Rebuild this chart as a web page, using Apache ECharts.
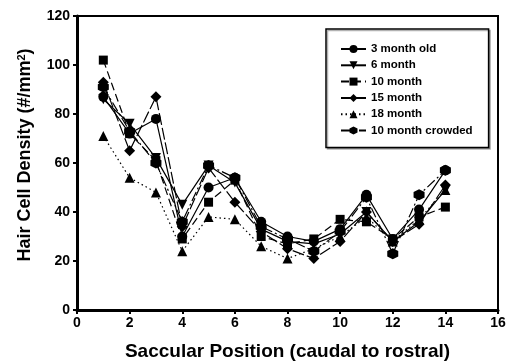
<!DOCTYPE html>
<html>
<head>
<meta charset="utf-8">
<script src="https://cdn.jsdelivr.net/npm/echarts@6/dist/echarts.min.js"></script>
<style>
  html, body { margin: 0; padding: 0; background: #fff; }
  #chart { width: 508px; height: 364px; }
</style>
</head>
<body>
<div id="chart"></div>
<script>
// saccular positions 1..14
const positions = [1, 2, 3, 4, 5, 6, 7, 8, 9, 10, 11, 12, 13, 14]

// hair cell density per age group
const month3 = [87, 72, 78, 30, 50, 54, 36, 30, 28, 33, 47, 29, 41, 57]
const month6 = [86, 76, 62, 43, 59, 52, 33, 28, 27, 31, 40, 28, 36, 49]
const month10 = [102, 72, 61, 29, 44, 53, 30, 27, 29, 37, 36, 29, 38, 42]
const month15 = [93, 65, 87, 34, 58, 44, 32, 25, 21, 28, 40, 28, 35, 51]
const month18 = [71, 54, 48, 24, 38, 37, 26, 21, 25, 30, 38, 28, 37, 49]
const month10Crowded = [91, 73, 60, 36, 59, 54, 34, 29, 24, 32, 46, 23, 47, 57]

const seriesNames = ['3 month old', '6 month', '10 month', '15 month', '18 month', '10 month crowded']

const hexagon = 'path://M0,-1 L0.866,-0.5 L0.866,0.5 L0,1 L-0.866,0.5 L-0.866,-0.5 Z'
const font = '"Liberation Sans", Arial, sans-serif'

const chart = echarts.init(document.getElementById('chart'))

function pairs(values) {
    return positions.map((x, i) => [x, values[i]])
}

function makeSeries(name, values, symbol, size, lineType, rotate) {
    return {
        name: name,
        type: 'line',
        data: pairs(values),
        symbol: symbol,
        symbolSize: size,
        symbolRotate: rotate || 0,
        showSymbol: true,
        itemStyle: { color: '#000' },
        lineStyle: { color: '#000', width: 1.2, type: lineType },
        emphasis: { disabled: true },
        animation: false,
    }
}

const option = {
    animation: false,
    backgroundColor: '#fff',
    grid: {
        left: 77,
        right: 10,
        top: 16,
        bottom: 54,
        show: true,
        borderColor: '#000',
        borderWidth: 2,
        containLabel: false,
        outerBoundsMode: 'none',
    },
    legend: {
        orient: 'vertical',
        left: 326,
        top: 29,
        padding: [14, 16, 11, 14],
        itemWidth: 25,
        itemHeight: 10,
        itemGap: 4.3,
        borderColor: '#000',
        borderWidth: 1.5,
        backgroundColor: '#fff',
        shadowColor: 'rgba(0,0,0,0.3)',
        shadowOffsetX: 1.5,
        shadowOffsetY: 1.5,
        shadowBlur: 0,
        textStyle: { fontFamily: font, fontWeight: 'bold', fontSize: 11.5, lineHeight: 12, color: '#000' },
        data: seriesNames,
    },
    xAxis: {
        type: 'value',
        min: 0,
        max: 16,
        interval: 2,
        name: 'Saccular Position (caudal to rostral)',
        nameLocation: 'middle',
        nameGap: 32,
        nameTextStyle: { fontFamily: font, fontWeight: 'bold', fontSize: 19, color: '#000' },
        axisLine: { show: true, onZero: false, lineStyle: { color: '#000', width: 3 } },
        axisTick: { show: true, inside: false, length: 4, lineStyle: { color: '#000', width: 2 } },
        axisLabel: { fontFamily: font, fontWeight: 'bold', fontSize: 14, color: '#000', margin: 6 },
        splitLine: { show: false },
    },
    yAxis: {
        type: 'value',
        min: 0,
        max: 120,
        interval: 20,
        name: 'Hair Cell Density (#/mm{sup|2})',
        nameLocation: 'middle',
        nameGap: 42,
        nameTextStyle: {
            fontFamily: font, fontWeight: 'bold', fontSize: 18, color: '#000',
            padding: [0, 0, 0, 16],
            rich: { sup: { fontFamily: font, fontWeight: 'bold', fontSize: 11, color: '#000', verticalAlign: 'top', padding: [0, 0, 8, 0] } },
        },
        axisLine: { show: true, onZero: false, lineStyle: { color: '#000', width: 3 } },
        axisTick: { show: true, inside: false, length: 4, lineStyle: { color: '#000', width: 2 } },
        axisLabel: { fontFamily: font, fontWeight: 'bold', fontSize: 14, color: '#000', margin: 7 },
        splitLine: { show: false },
    },
    series: [
        makeSeries(seriesNames[0], month3, 'circle', 10, 'solid'),
        makeSeries(seriesNames[1], month6, 'triangle', 10, 'solid', 180),
        makeSeries(seriesNames[2], month10, 'rect', 9, [8, 4]),
        makeSeries(seriesNames[3], month15, 'diamond', 11, [12, 3]),
        makeSeries(seriesNames[4], month18, 'triangle', 10, [1.5, 3]),
        makeSeries(seriesNames[5], month10Crowded, hexagon, 11, [10, 3, 2, 3]),
    ],
}

chart.setOption(option)
</script>
</body>
</html>
